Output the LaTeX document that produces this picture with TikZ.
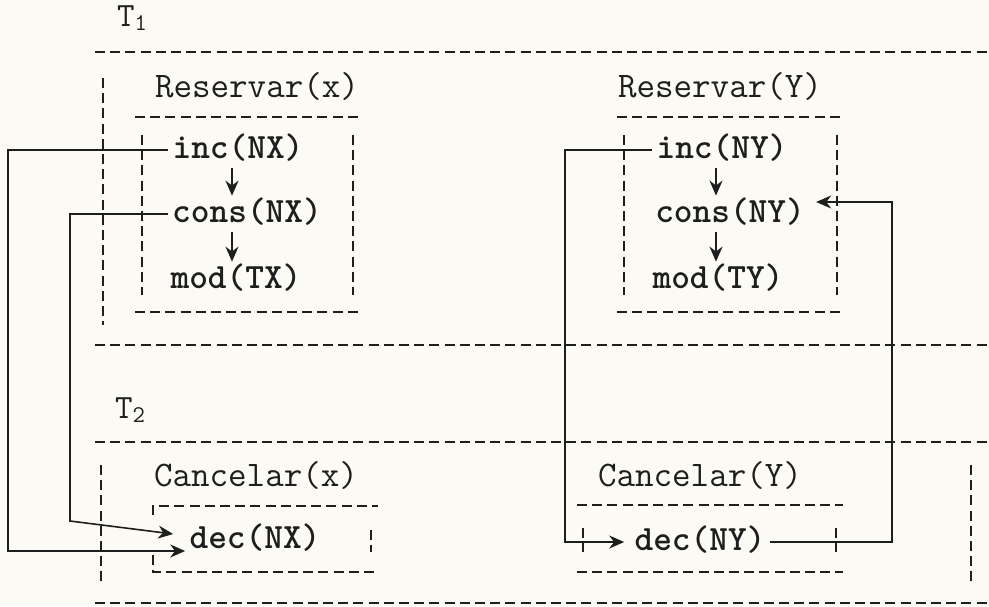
\documentclass[tikz,border=0pt]{standalone}
\usetikzlibrary{arrows.meta,calc}
\definecolor{paper}{RGB}{251,250,244}
\definecolor{ink}{RGB}{30,30,30}
\tikzset{
  frame/.style={draw=ink,line width=0.8pt,dash pattern=on 5pt off 2.6pt},
  conn/.style={draw=ink,line width=0.8pt},
  arr/.style={conn,-{Stealth[length=7.5pt,width=6.5pt]}},
  op/.style={font=\ttfamily\bfseries\fontsize{17.8}{20}\selectfont,inner sep=2pt,text height=11pt,text depth=3pt,text=ink},
  title/.style={font=\ttfamily\fontsize{18}{20}\selectfont,inner sep=2pt,text=ink},
  tlabel/.style={font=\ttfamily\fontsize{17}{20}\selectfont,inner sep=1pt,text=ink}
}
\begin{document}
\begin{tikzpicture}[x=0.5pt,y=-0.5pt]
\fill[paper] (0,0) rectangle (989,606);
\useasboundingbox (0,0) rectangle (989,606);
% T1 region
\node[tlabel] (t1) at (132,18) {T\raisebox{-2pt}{\fontsize{12}{12}\selectfont 1}};
\draw[frame] (95,52) -- (989,52);
\draw[frame] (103,78) -- (103,325);
% Reservar(x)
\node[title] (rx) at (257,86) {Reservar(x)};
\draw[frame] (135,117) -- (360,117);
\draw[frame] (142,135) -- (142,295);
\draw[frame] (353,135) -- (353,295);
\draw[frame] (135,312) -- (360,312);
\node[op] (incx) at (238,150) {inc(NX)};
\node[op] (consx) at (247,214) {cons(NX)};
\node[op] (modx) at (236,280) {mod(TX)};
\draw[arr] ([xshift=-3pt]incx.south) -- ([xshift=-3pt]incx.south |- consx.north);
\draw[arr] ([xshift=-3pt]incx.south |- consx.south) -- ([xshift=-3pt]incx.south |- modx.north);
% Reservar(Y)
\node[title] (ry) at (720,86) {Reservar(Y)};
\draw[frame] (617,117) -- (843,117);
\draw[frame] (624,135) -- (624,295);
\draw[frame] (837,135) -- (837,295);
\draw[frame] (617,312) -- (843,312);
\node[op] (incy) at (722,150) {inc(NY)};
\node[op] (consy) at (730,214) {cons(NY)};
\node[op] (mody) at (718,280) {mod(TY)};
\draw[arr] ([xshift=-3pt]incy.south) -- ([xshift=-3pt]incy.south |- consy.north);
\draw[arr] ([xshift=-3pt]incy.south |- consy.south) -- ([xshift=-3pt]incy.south |- mody.north);
% separator
\draw[frame] (95,345) -- (989,345);
% T2 region
\node[tlabel] (t2) at (130,410) {T\raisebox{-2pt}{\fontsize{12}{12}\selectfont 2}};
\draw[frame] (95,442) -- (989,442);
\draw[frame] (101,465) -- (101,585);
\draw[frame] (971,465) -- (971,585);
% Cancelar(x)
\node[title] (cx) at (256,475) {Cancelar(x)};
\draw[frame] (153,515) -- (153,506) -- (378,506);
\draw[frame] (153,555) -- (153,572) -- (378,572);
\draw[frame] (371,530) -- (371,552);
\node[op] (decx) at (255,540) {dec(NX)};
% Cancelar(Y)
\node[title] (cy) at (700,475) {Cancelar(Y)};
\draw[frame] (577,505) -- (843,505);
\draw[frame] (583,528) -- (583,552);
\draw[frame] (836,528) -- (836,552);
\draw[frame] (577,572) -- (843,572);
\node[op] (decy) at (700,542) {dec(NY)};
\draw[frame] (95,603) -- (989,603);
% connectors
\draw[arr] (incx.west) -| (8,400) |- ([yshift=-5.5pt]decx.west);
\draw[arr] (consx.west) -| (70,521) -- ([xshift=-6pt,yshift=3pt]decx.west);
\draw[arr] (incy.west) -| (565,400) |- ([xshift=-3pt]decy.west);
\draw[arr] (decy.east) -| (892,380) |- ([xshift=3.5pt,yshift=6pt]consy.east);
\end{tikzpicture}
\end{document}
